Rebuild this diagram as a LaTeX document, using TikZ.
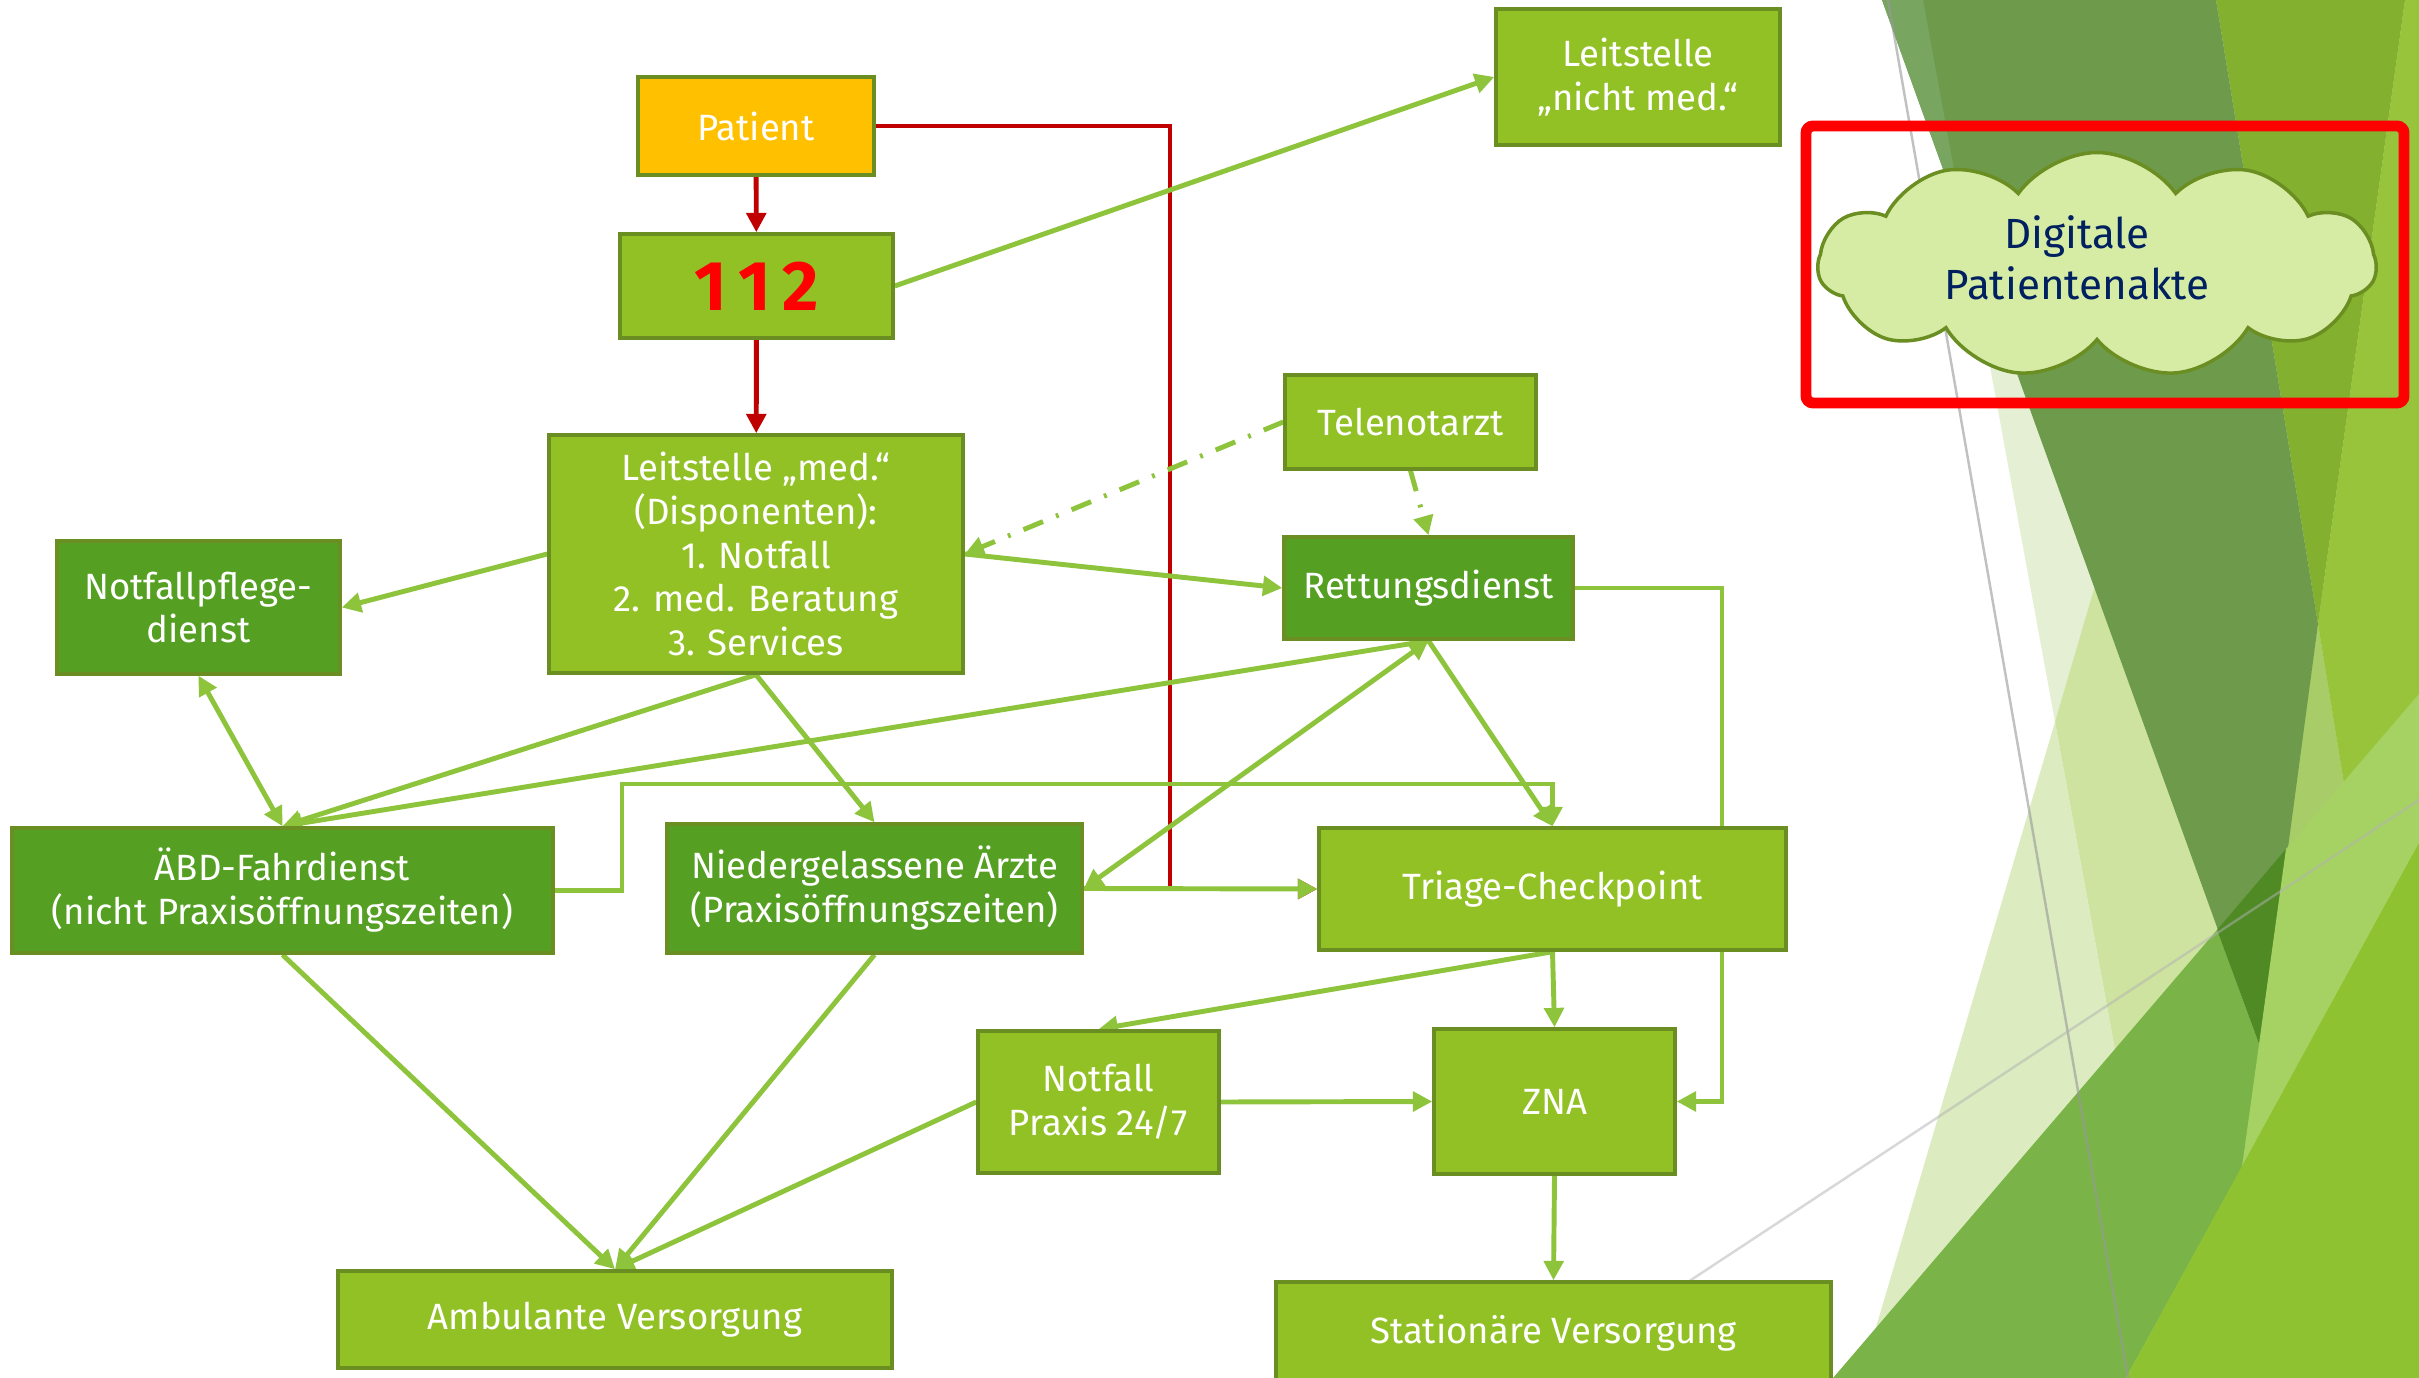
\documentclass[tikz,border=0pt]{standalone}
\usepackage{fontspec}
\setmainfont{Fira Sans}
\usetikzlibrary{arrows.meta,shapes.symbols}

\definecolor{lgreen}{HTML}{92C125}
\definecolor{dgreen}{HTML}{55A023}
\definecolor{bgreen}{HTML}{6B8E23}
\definecolor{agreen}{HTML}{8DC43C}
\definecolor{pyellow}{HTML}{FFC000}
\definecolor{dred}{HTML}{C00000}
\definecolor{navy}{HTML}{002060}
\definecolor{cloudg}{HTML}{D6ECA4}
% background facets
\definecolor{fpale}{HTML}{E5EFD3}
\definecolor{fpaleb}{HTML}{CFE3A0}
\definecolor{fpalec}{HTML}{DCEBC0}
\definecolor{folive}{HTML}{A8CC68}
\definecolor{flight}{HTML}{98C43C}
\definecolor{fmid}{HTML}{84B030}
\definecolor{fdark}{HTML}{6E9A4C}
\definecolor{fdarkl}{HTML}{78A560}
\definecolor{fgreen}{HTML}{7AB348}
\definecolor{fdeep}{HTML}{4F8A25}
\definecolor{flime}{HTML}{A6D264}
\definecolor{fbright}{HTML}{8FC230}

\pgfdeclarelayer{bg}
\pgfdeclarelayer{lines}
\pgfsetlayers{bg,lines,main}

\begin{document}
\begin{tikzpicture}[
  >={Triangle[length=5.5pt,width=5.5pt]},
  box/.style={draw=bgreen, line width=1pt, fill=lgreen, text=white, inner sep=0pt,
    align=center, font=\fontsize{10.4}{12.5}\selectfont},
  dbox/.style={box, fill=dgreen},
  gl/.style={draw=agreen, line width=1.4pt},
  rl/.style={draw=dred, line width=1.4pt},
  dd/.style={dash pattern=on 6pt off 4pt on 0.8pt off 4pt},
]
\useasboundingbox (0,0) rectangle (24.19,-13.78);

\begin{pgfonlayer}{bg}
\fill[white] (0,0) rectangle (24.19,-13.78);
\fill[fpale] (19.23,0) -- (24.19,0) -- (24.19,-13.78) -- (21.75,-13.78) -- cycle;
\fill[fpaleb] (20.94,-5.89) -- (20.55,-7.22) -- (21.75,-13.78) -- (24.19,-13.78) -- (24.19,-5.89) -- cycle;
\fill[fpalec] (20.55,-7.22) -- (18.61,-13.78) -- (21.75,-13.78) -- cycle;
\fill[folive] (23.18,-6.24) -- (24.19,-12.45) -- (24.19,-13.78) -- (22.12,-13.78) -- cycle;
\fill[flight] (24.05,0) -- (24.19,0) -- (24.19,-12.45) -- (23.18,-6.24) -- cycle;
\fill[fmid] (22.16,0) -- (24.05,0) -- (23.18,-6.24) -- cycle;
\fill[fdark] (18.82,0) -- (22.16,0) -- (23.18,-6.24) -- (22.61,-10.49) -- cycle;
\fill[fdarkl] (18.82,0) -- (19.23,0) -- (19.65,-2.30) -- cycle;
\fill[fgreen] (18.33,-13.78) -- (22.17,-9.30) -- (22.61,-10.49) -- (22.42,-11.67) -- (21.26,-13.78) -- cycle;
\fill[fdeep] (22.17,-9.30) -- (22.86,-8.49) -- (22.61,-10.49) -- cycle;
\fill[flime] (22.86,-8.49) -- (24.19,-6.94) -- (24.19,-8.43) -- (22.42,-11.67) -- cycle;
\fill[fbright] (21.26,-13.78) -- (24.19,-8.43) -- (24.19,-13.78) -- cycle;
\draw[black!40, line width=0.7pt, opacity=0.6] (18.88,0) -- (21.28,-13.78);
\draw[black!30, line width=0.7pt, opacity=0.5] (16.5,-13.07) -- (24.19,-8.0);
\end{pgfonlayer}

\node[box, fill=pyellow, minimum width=2.36cm, minimum height=0.98cm] (p) at (7.56,-1.26) {Patient};
\node[box, minimum width=2.73cm, minimum height=1.04cm, text=red,
  font=\fontsize{20}{21}\selectfont\bfseries] (n112) at (7.565,-2.86) {1\,1\,2};
\node[box, minimum width=4.14cm, minimum height=2.38cm] (lm) at (7.56,-5.54)
  {Leitstelle „med.“\\(Disponenten):\\1. Notfall\\2. med. Beratung\\3. Services};
\node[box, minimum width=2.84cm, minimum height=1.36cm] (ln) at (16.38,-0.77) {Leitstelle\\„nicht med.“};
\node[box, minimum width=2.51cm, minimum height=0.94cm] (tn) at (14.105,-4.22) {Telenotarzt};
\node[dbox, minimum width=2.89cm, minimum height=1.02cm] (rd) at (14.285,-5.88) {Rettungsdienst};
\node[dbox, minimum width=2.83cm, minimum height=1.33cm] (npd) at (1.985,-6.075) {Notfallpflege-\\dienst};
\node[dbox, minimum width=5.41cm, minimum height=1.25cm] (abd) at (2.825,-8.905)
  {ÄBD-Fahrdienst\\(nicht Praxisöffnungszeiten)};
\node[dbox, minimum width=4.15cm, minimum height=1.29cm] (na) at (8.745,-8.885)
  {Niedergelassene Ärzte\\(Praxisöffnungszeiten)};
\node[box, minimum width=4.67cm, minimum height=1.22cm] (tc) at (15.525,-8.89) {Triage-Checkpoint};
\node[box, minimum width=2.41cm, minimum height=1.42cm] (np) at (10.985,-11.02) {Notfall\\Praxis 24/7};
\node[box, minimum width=2.41cm, minimum height=1.45cm] (zna) at (15.545,-11.015) {ZNA};
\node[box, minimum width=5.54cm, minimum height=0.97cm] (av) at (6.15,-13.195) {Ambulante Versorgung};
\node[box, minimum width=5.55cm, minimum height=1.03cm] (sv) at (15.535,-13.335) {Stationäre Versorgung};

% Patientenakte
\node[draw=red, line width=3.1pt, rounded corners=2pt, minimum width=5.98cm, minimum height=2.77cm] (rf) at (21.05,-2.645) {};
\node[cloud, cloud puffs=11, cloud puff arc=110, aspect=2.5, draw=bgreen, line width=1pt, fill=cloudg,
  minimum width=5.58cm, minimum height=2.25cm] (dpa) at (20.97,-2.65) {};
\node[text=navy, align=center, font=\fontsize{12}{14.5}\selectfont] (dpt) at (20.77,-2.58) {Digitale\\Patientenakte};

\coordinate (rk) at (11.70,-8.89);
\coordinate (ak) at (6.22,-7.84);
\coordinate (rk2) at (17.22,-11.015);

\begin{pgfonlayer}{lines}
\draw[rl,->] (p) -- (n112);
\draw[rl,->] (n112) -- (lm);
\draw[rl,->] (p.east) -| (rk) -- (tc.west);
\draw[gl,->] (n112.east) -- (ln.west);
\draw[gl,dd,->] (tn.west) -- (lm.east);
\draw[gl,dd,->] (tn.south) -- (rd.north);
\draw[gl,->] (lm.east) -- (rd.west);
\draw[gl,->] (lm.west) -- (npd.east);
\draw[gl,<->] (npd.south) -- (abd.north);
\draw[gl,->] (lm.south) -- (abd.north);
\draw[gl,->] (rd.south) -- (abd.north);
\draw[gl,->] (lm.south) -- (na.north);
\draw[gl,<->] (rd.south) -- (na.east);
\draw[gl,->] (rd.south) -- (tc.north);
\draw[gl,->] (abd.east) -| (ak) -| (tc.north);
\draw[gl,->] (na.east) -- (tc.west);
\draw[gl,->] (rd.east) -| (rk2) -- (zna.east);
\draw[gl,->] (tc.south) -- (zna.north);
\draw[gl,->] (tc.south) -- (np.north);
\draw[gl,->] (np.east) -- (zna.west);
\draw[gl,->] (zna.south) -- (sv.north);
\draw[gl,->] (abd.south) -- (av.north);
\draw[gl,->] (na.south) -- (av.north);
\draw[gl,->] (np.west) -- (av.north);
\end{pgfonlayer}
\end{tikzpicture}
\end{document}
